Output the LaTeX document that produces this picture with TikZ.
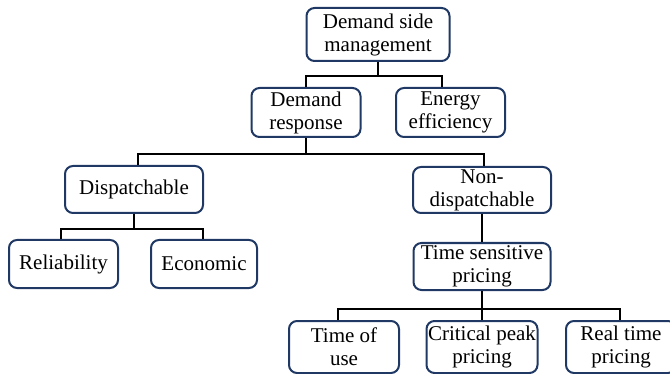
\documentclass[tikz,border=0pt]{standalone}
\usepackage{fontspec}
\setmainfont{Liberation Serif}
\definecolor{boxline}{HTML}{1F3864}
\begin{document}
\begin{tikzpicture}[x=0.5pt,y=-0.5pt]
  \def\u{0.5pt}
\tikzstyle{block}=[draw=boxline,line width=1pt,rounded corners=4pt,align=center,inner sep=0pt,
  font=\fontsize{10.5}{11.5}\selectfont]
\tikzstyle{link}=[draw=black,line width=1pt]
\useasboundingbox (0,0) rectangle (670,374);
\node[block][minimum width=143*\u,minimum height=53*\u] (B1) at (378,34.5) {Demand side\\management};
\node[block][minimum width=109*\u,minimum height=49*\u] (B2) at (306,112.5) {Demand\\response};
\node[block][minimum width=109*\u,minimum height=49*\u] (B3) at (450.5,112.5) {Energy\\efficiency};
\coordinate (J1) at (B1.south |- 0,76);
\draw[link] (B1.south) -- (J1);
\draw[link] (J1) -| (B2.north);
\draw[link] (J1) -| ([xshift=-9*\u]B3.north);
\node[block][minimum width=138*\u,minimum height=47*\u] (B4) at (134,189.5) {Dispatchable};
\node[block][minimum width=138*\u,minimum height=46*\u] (B5) at (482,190) {Non-\\dispatchable};
\coordinate (J2) at (B2.south |- 0,154);
\draw[link] (B2.south) -- (J2);
\draw[link] (J2) -| ([xshift=4*\u]B4.north);
\draw[link] (J2) -| ([xshift=2*\u]B5.north);
\node[block][minimum width=109*\u,minimum height=48*\u] (B6) at (63.5,264) {Reliability};
\node[block][minimum width=106*\u,minimum height=48*\u] (B7) at (204,264) {Economic};
\coordinate (J3) at (B4.south |- 0,229);
\draw[link] (B4.south) -- (J3);
\draw[link] (J3) -| ([xshift=-3*\u]B6.north);
\draw[link] (J3) -| ([xshift=-1*\u]B7.north);
\node[block][minimum width=137*\u,minimum height=47*\u] (B8) at (482,266.5) {Time sensitive\\pricing};
\draw[link] (B5.south) -- (B8.north);
\node[block][minimum width=110*\u,minimum height=52*\u] (B9) at (344,347) {Time of\\use};
\node[block][minimum width=111*\u,minimum height=52*\u] (B10) at (482,347) {Critical peak\\pricing};
\node[block][minimum width=110*\u,minimum height=52*\u] (B11) at (621,347) {Real time\\pricing};
\coordinate (J4) at (B8.south |- 0,309);
\draw[link] (B8.south) -- (J4);
\draw[link] (J4) -| ([xshift=-6*\u]B9.north);
\draw[link] (J4) -- (B10.north);
\draw[link] (J4) -| ([xshift=-1*\u]B11.north);
\end{tikzpicture}
\end{document}
